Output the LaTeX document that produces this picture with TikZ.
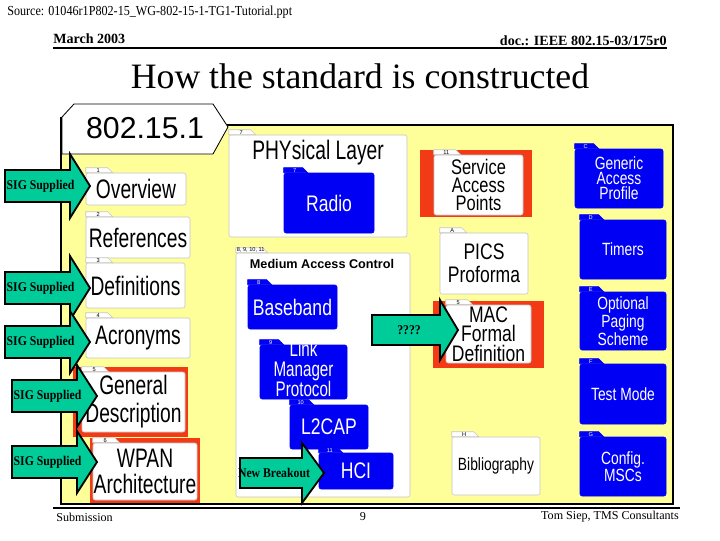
\documentclass[tikz,border=0pt]{standalone}
\usepackage{fontspec}
\setmainfont{Liberation Serif}
\setsansfont{Liberation Sans}
\newfontfamily\narrowsans[FakeStretch=0.72]{Liberation Sans}
\newfontfamily\midsans[FakeStretch=0.78]{Liberation Sans}
\newfontfamily\narrowserif[FakeStretch=0.88]{Liberation Serif}
\usetikzlibrary{positioning}

\definecolor{padyellow}{RGB}{255,255,153}
\definecolor{sigteal}{RGB}{0,204,153}
\definecolor{hired}{RGB}{243,58,23}
\definecolor{folderblue}{RGB}{0,0,245}

% tab on top of a folder: node, label, kind (w or b), tab width
\newcommand{\foldertab}[4]{%
  \draw[#3tab] (#1.north west) -- ++(0,-5) -- ++(#4-5,0) -- ++(5,5) -- cycle;
  \path (#1.north west) ++(#4/2-1,-2.5) node[#3tabnum] (#1-tab) {#2};
}
% block arrow: name, x, y, shaft length, shaft half width, head half width, head length, text
\newcommand{\blockarrow}[8]{%
  \draw[blockarrow] (#2,#3-#5) -- ++(#4,0) -- ++(0,#5-#6) -- ++(#7,#6) -- ++(-#7,#6) -- ++(0,#5-#6) -- ++(-#4,0) -- cycle;
  \node[arrowtxt] (#1) at (#2+#4/2+3,#3) {#8};
}

\begin{document}
\begin{tikzpicture}[x=0.025cm, y=-0.025cm,
    wh/.style 2 args={minimum width=#1*0.025cm, minimum height=#2*0.025cm},
    wfolder/.style={draw=gray!45, fill=white, rounded corners=1.5pt, inner sep=0pt, align=center},
    bfolder/.style={draw=folderblue, fill=folderblue, text=white, rounded corners=1.5pt, inner sep=0pt, align=center},
    wtab/.style={draw=gray!45, fill=white, line width=0.4pt},
    btab/.style={draw=folderblue, fill=folderblue},
    wtabnum/.style={font=\sffamily\fontsize{4}{4}\selectfont, inner sep=0pt},
    btabnum/.style={font=\sffamily\fontsize{4}{4}\selectfont, inner sep=0pt, text=white},
    hilite/.style={fill=hired, inner sep=0pt},
    bigtxt/.style={font=\narrowsans\fontsize{19}{#1}\selectfont}, bigtxt/.default=20,
    midtxt/.style={font=\midsans\fontsize{16}{#1}\selectfont}, midtxt/.default=13.5,
    smalltxt/.style={font=\midsans\fontsize{12.6}{#1}\selectfont}, smalltxt/.default=10.5,
    blockarrow/.style={draw=black, fill=sigteal, line width=1.3pt, line join=miter},
    arrowtxt/.style={font=\narrowserif\bfseries\fontsize{9.5}{10}\selectfont, inner sep=0pt},
    serif/.style={font=\fontsize{#1}{#1}\selectfont, inner sep=0pt}]

  \useasboundingbox (0,0) rectangle (720,540);
  \fill[white] (0,0) rectangle (720,540);

  % Header and title
  \node[font=\narrowserif\fontsize{9.8}{10}\selectfont, inner sep=0pt, anchor=west] (src) at (7,12) {Source: 01046r1P802-15\_WG-802-15-1-TG1-Tutorial.ppt};
  \node[serif=10, font=\bfseries, anchor=base west] (date) at (53,43) {March 2003};
  \node[serif=10, font=\bfseries, anchor=base east] (doc) at (667,45) {doc.: IEEE 802.15-03/175r0};
  \draw[line width=1.4pt] (53,48) -- (667,48);
  \node[serif=25.4] (title) at (360,76) {How the standard is constructed};

  % Frame of the standard
  \draw[line width=1.6pt, fill=padyellow] (61,125) rectangle (673,504);
  \draw[fill=white, line width=0.6pt, line join=round] (62,154) -- (62,117) -- (74,104) -- (213,104) -- (228,127) -- (213,154) -- cycle;
  \draw[line width=1.6pt] (61,117) -- (61,154);
  \node[font=\sffamily\fontsize{21.5}{22}\selectfont] (std) at (145,128) {802.15.1};

  % Red highlights
  \node[hilite, wh={115}{70}] (gendesc-hl) at (130.5,402) {};
  \node[hilite, wh={110}{65}] (wpan-hl) at (145,470.5) {};
  \node[hilite, wh={112}{67}] (sap-hl) at (476,183.5) {};
  \node[hilite, wh={111}{67}] (macfd-hl) at (488.5,334.5) {};

  % Clauses on the left
  \node[wfolder, wh={100}{32}, bigtxt] (ovw) at (136,189) {Overview};
  \foldertab{ovw}{1}{w}{27}
  \node[wfolder, wh={104}{41}, bigtxt] (refs) at (138,237.5) {References};
  \foldertab{refs}{2}{w}{27}
  \node[wfolder, wh={99}{45}, bigtxt] (defs) at (135.5,285.5) {Definitions};
  \foldertab{defs}{3}{w}{27}
  \node[wfolder, wh={104}{40}, bigtxt] (acro) at (138,338) {Acronyms};
  \foldertab{acro}{4}{w}{27}
  \node[wfolder, wh={103}{60}, bigtxt=19.8] (gendesc) at (133.5,402) {General\\Description};
  \foldertab{gendesc}{5}{w}{27}
  \node[wfolder, wh={104}{57}, bigtxt=18.4] (wpan) at (145,471.5) {WPAN\\Architecture};
  \foldertab{wpan}{6}{w}{27}

  % Physical layer
  \node[wfolder, wh={178}{102}] (phy) at (318,186) {};
  \foldertab{phy}{7}{w}{27}
  \node[bigtxt] (phy-lbl) at (318,153) {PHYsical Layer};
  \node[bfolder, wh={90}{60}, midtxt] (radio) at (329,203) {Radio};
  \foldertab{radio}{7}{b}{24}

  % Medium access control
  \node[wfolder, wh={174}{244}] (mac) at (323,375) {};
  \foldertab{mac}{8, 9, 10, 11}{w}{32}
  \node[font=\sffamily\bfseries\fontsize{9}{9}\selectfont] (mac-lbl) at (322,264) {Medium Access Control};
  \node[bfolder, wh={89}{44}, midtxt] (bb) at (292.5,307) {Baseband};
  \foldertab{bb}{8}{b}{24}
  \node[bfolder, wh={87}{54}] (lmp) at (303.5,372) {};
  \foldertab{lmp}{9}{b}{24}
  \node[align=center, text=white, inner sep=0pt, font=\narrowsans\fontsize{15}{14.2}\selectfont] (lmp-lbl) at (303.5,369) {Link\\Manager\\Protocol};
  \node[bfolder, wh={78}{44}, midtxt] (l2cap) at (329,427) {L2CAP};
  \foldertab{l2cap}{10}{b}{24}
  \node[bfolder, wh={74}{36}, midtxt] (hci) at (356,471) {HCI};
  \foldertab{hci}{11}{b}{24}

  % Middle column
  \node[wfolder, wh={89}{60}, font=\midsans\fontsize{15}{12.8}\selectfont] (sap) at (478.5,185) {Service\\Access\\Points};
  \foldertab{sap}{11}{w}{27}
  \node[wfolder, wh={88}{61}, midtxt=16.3] (pics) at (484,263.5) {PICS\\Proforma};
  \foldertab{pics}{A}{w}{27}
  \node[wfolder, wh={85}{58}, midtxt=13.8] (macfd) at (488.5,334) {MAC\\Formal\\Definition};
  \foldertab{macfd}{5}{w}{27}
  \node[wfolder, wh={88}{58}, smalltxt] (biblio) at (496,466) {Bibliography};
  \foldertab{biblio}{H}{w}{27}

  % Annexes on the right
  \node[bfolder, wh={88}{59}, smalltxt=10.6] (gap) at (619,178.5) {Generic\\Access\\Profile};
  \foldertab{gap}{C}{b}{24}
  \node[bfolder, wh={86}{59}, smalltxt] (timers) at (623,249.5) {Timers};
  \foldertab{timers}{D}{b}{24}
  \node[bfolder, wh={86}{58}, smalltxt=10.7] (paging) at (623,321) {Optional\\Paging\\Scheme};
  \foldertab{paging}{E}{b}{24}
  \node[bfolder, wh={86}{60}, smalltxt] (testmode) at (623,394) {Test Mode};
  \foldertab{testmode}{F}{b}{24}
  \node[bfolder, wh={86}{59}, smalltxt=10.2] (mscs) at (623,466.5) {Config.\\MSCs};
  \foldertab{mscs}{G}{b}{24}

  % Arrows
  \foreach \x/\y/\h/\n in {5/186/32/1, 5/288/32/2, 5/342/31/3, 12/396/31/4, 12/462/31/5}
    \blockarrow{sig\n}{\x}{\y}{65}{16}{\h}{20}{SIG Supplied};
  \blockarrow{newbo}{240}{473}{62}{15}{30}{22}{New Breakout}
  \blockarrow{unknown}{372}{330}{68}{15}{30}{18}{????}

  % Footer
  \draw[line width=1.4pt] (53,508) -- (680,508);
  \node[serif=8.6, anchor=west] (sub) at (56,517) {Submission};
  \node[serif=8.6] (page) at (363,517) {9};
  \node[serif=8.6, anchor=east] (author) at (679,517) {Tom Siep, TMS Consultants};
\end{tikzpicture}
\end{document}
